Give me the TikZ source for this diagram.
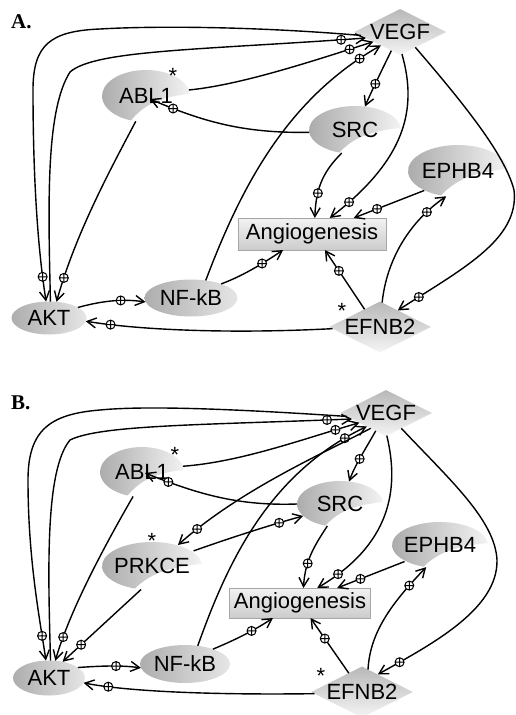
\documentclass[tikz,border=0pt]{standalone}
\usepackage{fontspec}
\setmainfont{Liberation Sans}
\newfontfamily\panelfont{Liberation Serif}
\usetikzlibrary{shapes.geometric,arrows.meta,decorations.markings}

\tikzset{
  gene/.style={font=\fontsize{22}{26}\selectfont, inner sep=0pt, outer sep=0pt},
  lig/.style={gene, diamond, shape aspect=2, minimum width=92, minimum height=46, top color=black!28, bottom color=black!4},
  prot/.style={gene, ellipse, left color=black!32, right color=black!10},
  kin/.style={gene, ellipse},
  kinshade/.style={left color=black!33, right color=black!5},
  proc/.style={gene, rectangle, draw=black!35, line width=0.8pt, top color=black!5, bottom color=black!20, minimum width=148, minimum height=32},
  act/.style={line width=1.4pt, -{Straight Barb[length=9pt,width=10pt]}, postaction={decorate},
    decoration={markings, mark=at position -25pt with {\pgftransformresetnontranslations
      \fill[white] (0,0) circle (4.5pt);
      \draw[line width=1pt] (0,0) circle (4.5pt) (-4.5pt,0) -- (4.5pt,0) (0,-4.5pt) -- (0,4.5pt);}}},
  asterisk/.style={font=\fontsize{22}{26}\selectfont, anchor=base, inner sep=0pt},
  paneltag/.style={font=\panelfont\bfseries\fontsize{21}{24}\selectfont, anchor=base west, inner sep=0pt}
}

% kinase: bitten ellipse, #1 name, #2 centre, #3 label, #4 x radius, #5 y radius
\newcommand{\kinase}[5]{%
  \begin{scope}[shift={#2}, xscale=#4, yscale=#5]
    \shade[kinshade] (-5:1) arc[start angle=-5, end angle=-250, radius=1]
      .. controls (-0.05,0.35) and (0.3,0.05) .. cycle;
  \end{scope}
  \node[kin, minimum width=2*#4, minimum height=2*#5] (#1) at #2 {#3};
}

\begin{document}
\begin{tikzpicture}[x=1pt,y=1pt,yscale=-1]
\useasboundingbox (0,0) rectangle (516,715);

% Panel A
\node[paneltag] (tagA) at (11,28) {A.};
\node[lig] (vegfA) at (400,32) {VEGF};
\kinase{ablA}{(146,96)}{ABL1}{44}{26}
\kinase{srcA}{(355,130)}{SRC}{46}{24}
\kinase{ephA}{(458,171)}{EPHB4}{50}{26}
\node[proc] (angA) at (312,234) {Angiogenesis};
\node[prot, minimum width=75, minimum height=33] (aktA) at (49,318) {AKT};
\node[prot, minimum width=93, minimum height=37] (nfkA) at (191,298) {NF-kB};
\node[lig] (efnA) at (380,327) {EFNB2};
\node[asterisk] (astAblA) at (173,83) {*};
\node[asterisk] (astEfnA) at (342,318) {*};

%Curve Lines
\draw[act] (vegfA.185) .. controls (250,26) and (150,26) .. (100,29) .. controls (50,31) and (33,45) .. (33,90) .. controls (33,180) and (38,250) .. (aktA.100);
\draw[act] (aktA.85) .. controls (48,200) and (46,110) .. (70,72) .. controls (95,50) and (200,50) .. (vegfA.190);
\draw[act] (ablA.8) .. controls (240,85) and (310,62) .. (vegfA.200);
\draw[act] (nfkA.50) .. controls (240,190) and (285,100) .. (vegfA.215);
\draw[act] (vegfA.245) .. controls (382,70) and (372,90) .. (srcA.67);
\draw[act] (srcA.183) .. controls (250,133) and (210,125) .. ([shift={(4,3)}]ablA.center);
\draw[act] (ablA.-112) .. controls (110,170) and (75,235) .. (aktA.65);
\draw[act] (vegfA.-85) .. controls (418,110) and (405,160) .. (angA.42);
\draw[act] (vegfA.-45) .. controls (465,105) and (505,155) .. (514,190) .. controls (520,240) and (460,270) .. (efnA.43);
\draw[act] (srcA.-120) .. controls (325,170) and (316,185) .. (angA.80);
\draw[act] (ephA.-150) -- (angA.21);
\draw[act] (efnA.85) .. controls (386,265) and (405,225) .. (ephA.-115);
\draw[act] (efnA.131) -- (angA.-51);
\draw[act] (aktA.20) .. controls (105,300) and (125,299) .. (nfkA.185);
\draw[act] (efnA.182) .. controls (230,334) and (140,330) .. (aktA.-5);
\draw[act] (nfkA.25) .. controls (245,275) and (265,262) .. (angA.209);

% Panel B
\node[paneltag] (tagB) at (11,409) {B.};
\node[lig] (vegfB) at (386,413) {VEGF};
\kinase{ablB}{(142,472)}{ABL1}{42}{25}
\kinase{srcB}{(340,504)}{SRC}{43}{23}
\kinase{prkB}{(152,566)}{PRKCE}{50}{24}
\kinase{ephB}{(440,545)}{EPHB4}{48}{23}
\node[proc, minimum width=141, minimum height=30] (angB) at (300,603) {Angiogenesis};
\node[prot, minimum width=72, minimum height=35] (aktB) at (49,678) {AKT};
\node[prot, minimum width=90, minimum height=38] (nfkB) at (185,664) {NF-kB};
\node[lig] (efnB) at (362,692) {EFNB2};
\node[asterisk] (astAblB) at (175,462) {*};
\node[asterisk] (astPrkB) at (152,548) {*};
\node[asterisk] (astEfnB) at (321,683) {*};

%Curve Lines
\draw[act] (vegfB.185) .. controls (250,410) and (150,405) .. (100,410) .. controls (50,414) and (28,430) .. (28,480) .. controls (28,560) and (40,620) .. (aktB.100);
\draw[act] (aktB.85) .. controls (48,570) and (45,470) .. (70,440) .. controls (100,425) and (200,425) .. (vegfB.190);
\draw[act] (ablB.8) .. controls (240,462) and (300,440) .. (vegfB.200);
\draw[act] (nfkB.55) .. controls (225,570) and (265,475) .. (vegfB.215);
\draw[act] (vegfB.225) .. controls (320,455) and (240,490) .. (prkB.39);
\draw[act] (vegfB.240) .. controls (365,450) and (355,465) .. (srcB.68);
\draw[act] (srcB.180) .. controls (240,506) and (200,495) .. ([shift={(3,1)}]ablB.center);
\draw[act] (ablB.-110) .. controls (105,545) and (70,610) .. (aktB.70);
\draw[act] (prkB.-115) -- (aktB.50);
\draw[act] (prkB.20) .. controls (230,538) and (270,525) .. (srcB.198);
\draw[act] (vegfB.-88) .. controls (400,490) and (390,545) .. (angB.41);
\draw[act] (vegfB.-45) .. controls (450,480) and (495,520) .. (497,560) .. controls (498,610) and (430,645) .. (efnB.48);
\draw[act] (srcB.-120) .. controls (315,545) and (305,560) .. (angB.77);
\draw[act] (ephB.205) -- (angB.22);
\draw[act] (efnB.75) .. controls (370,630) and (395,600) .. (ephB.-122);
\draw[act] (efnB.125) -- (angB.-55);
\draw[act] (aktB.20) .. controls (100,666) and (120,665) .. (nfkB.185);
\draw[act] (efnB.182) .. controls (220,695) and (130,692) .. (aktB.-8);
\draw[act] (nfkB.28) .. controls (235,640) and (255,630) .. (angB.209);

\end{tikzpicture}
\end{document}
